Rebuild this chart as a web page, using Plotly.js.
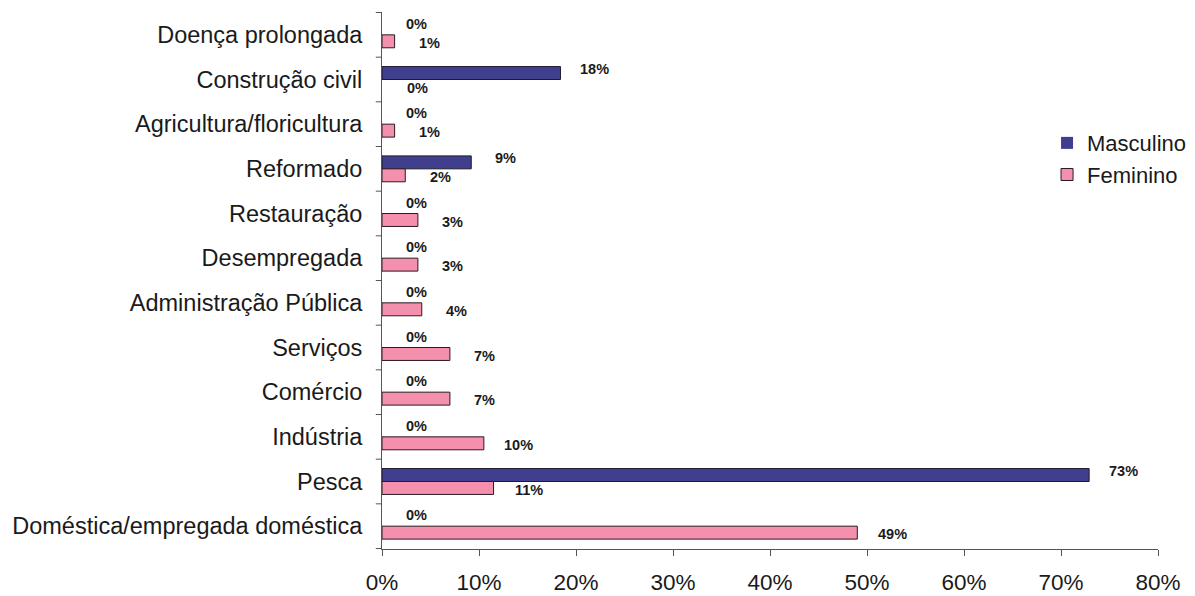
<!DOCTYPE html>
<html>
<head>
<meta charset="utf-8">
<script src="https://cdn.plot.ly/plotly-3.0.1.min.js"></script>
<style>html,body{margin:0;padding:0;background:#fff;}#chart{width:1195px;height:596px;}</style>
</head>
<body>
<div id="chart"></div>
<script>
// Categories listed top to bottom as in the picture
const categories = [
  "Doença prolongada",
  "Construção civil",
  "Agricultura/floricultura",
  "Reformado",
  "Restauração",
  "Desempregada",
  "Administração Pública",
  "Serviços",
  "Comércio",
  "Indústria",
  "Pesca",
  "Doméstica/empregada doméstica"
];
// Values in percent
const masculino = [0, 18.4, 0, 9.2, 0, 0, 0, 0, 0, 0, 72.9, 0];
const feminino  = [1.3, 0, 1.3, 2.4, 3.7, 3.7, 4.1, 7.0, 7.0, 10.5, 11.5, 49.0];
// Data labels as printed
const labelsM = ["0%", "18%", "0%", "9%", "0%", "0%", "0%", "0%", "0%", "0%", "73%", "0%"];
const labelsF = ["1%", "0%", "1%", "2%", "3%", "3%", "4%", "7%", "7%", "10%", "11%", "49%"];
const xTickVals = [0, 10, 20, 30, 40, 50, 60, 70, 80];
const xTickText = ["0%", "10%", "20%", "30%", "40%", "50%", "60%", "70%", "80%"];

const FONT = "Liberation Sans, Arial, Helvetica, sans-serif";

const traces = [
  {
    type: "bar", orientation: "h", name: "Masculino",
    y: categories, x: masculino, legendgroup: "m",
    marker: {color: "#3f3f8e", line: {color: "#1c1c2a", width: masculino.map(v => v > 0 ? 1 : 0)}},
    hoverinfo: "skip"
  },
  {
    type: "bar", orientation: "h", name: "Feminino",
    y: categories, x: feminino, legendgroup: "f",
    marker: {color: "#f490ad", line: {color: "#2a1a1e", width: feminino.map(v => v > 0 ? 1 : 0)}},
    hoverinfo: "skip"
  }
];

const annotations = [];
categories.forEach((c, i) => {
  annotations.push({
    x: masculino[i], y: c, xref: "x", yref: "y", text: labelsM[i],
    showarrow: false, xshift: 34, yshift: 11,
    font: {family: FONT, size: 14.5, color: "#1a1a1a", weight: "bold"}
  });
  annotations.push({
    x: feminino[i], y: c, xref: "x", yref: "y", text: labelsF[i],
    showarrow: false, xshift: 35, yshift: -8,
    font: {family: FONT, size: 14.5, color: "#1a1a1a", weight: "bold"}
  });
});

const layout = {
  width: 1195, height: 596,
  margin: {l: 382, r: 37, t: 12, b: 47, pad: 0, autoexpand: false},
  paper_bgcolor: "#ffffff", plot_bgcolor: "#ffffff",
  font: {family: FONT, color: "#1a1a1a"},
  barmode: "group", bargap: 0.42, bargroupgap: 0,
  showlegend: true,
  legend: {
    x: 0.857, y: 0.795, xanchor: "left", yanchor: "top",
    font: {family: FONT, size: 22, color: "#1a1a1a"},
    bgcolor: "rgba(0,0,0,0)", tracegroupgap: 12, traceorder: "normal",
    itemwidth: 30
  },
  xaxis: {
    range: [0, 80], tickvals: xTickVals, ticktext: xTickText,
    showgrid: false, zeroline: false, showline: true,
    linecolor: "#555", linewidth: 1,
    ticks: "outside", ticklen: 6, tickcolor: "#555",
    ticklabelstandoff: 7,
    tickfont: {family: FONT, size: 22.5, color: "#1a1a1a"},
    fixedrange: true
  },
  yaxis: {
    type: "category", autorange: "reversed",
    showgrid: false, zeroline: false, showline: true,
    linecolor: "#555", linewidth: 1,
    ticks: "", showdividers: false,
    tickfont: {family: FONT, size: 23.5, color: "#1a1a1a"},
    ticklabelstandoff: 14,
    fixedrange: true
  },
  annotations: annotations,
  shapes: []
};

// Category divider ticks on the y axis (between categories), placed through the axis scale
for (let i = 0; i <= categories.length; i++) {
  layout.shapes.push({
    type: "line", xref: "paper", yref: "y",
    x0: -0.008, x1: 0, y0: i - 0.5, y1: i - 0.5,
    line: {color: "#555", width: 1}
  });
}

Plotly.newPlot("chart", traces, layout, {displayModeBar: false, staticPlot: true});
</script>
</body>
</html>
